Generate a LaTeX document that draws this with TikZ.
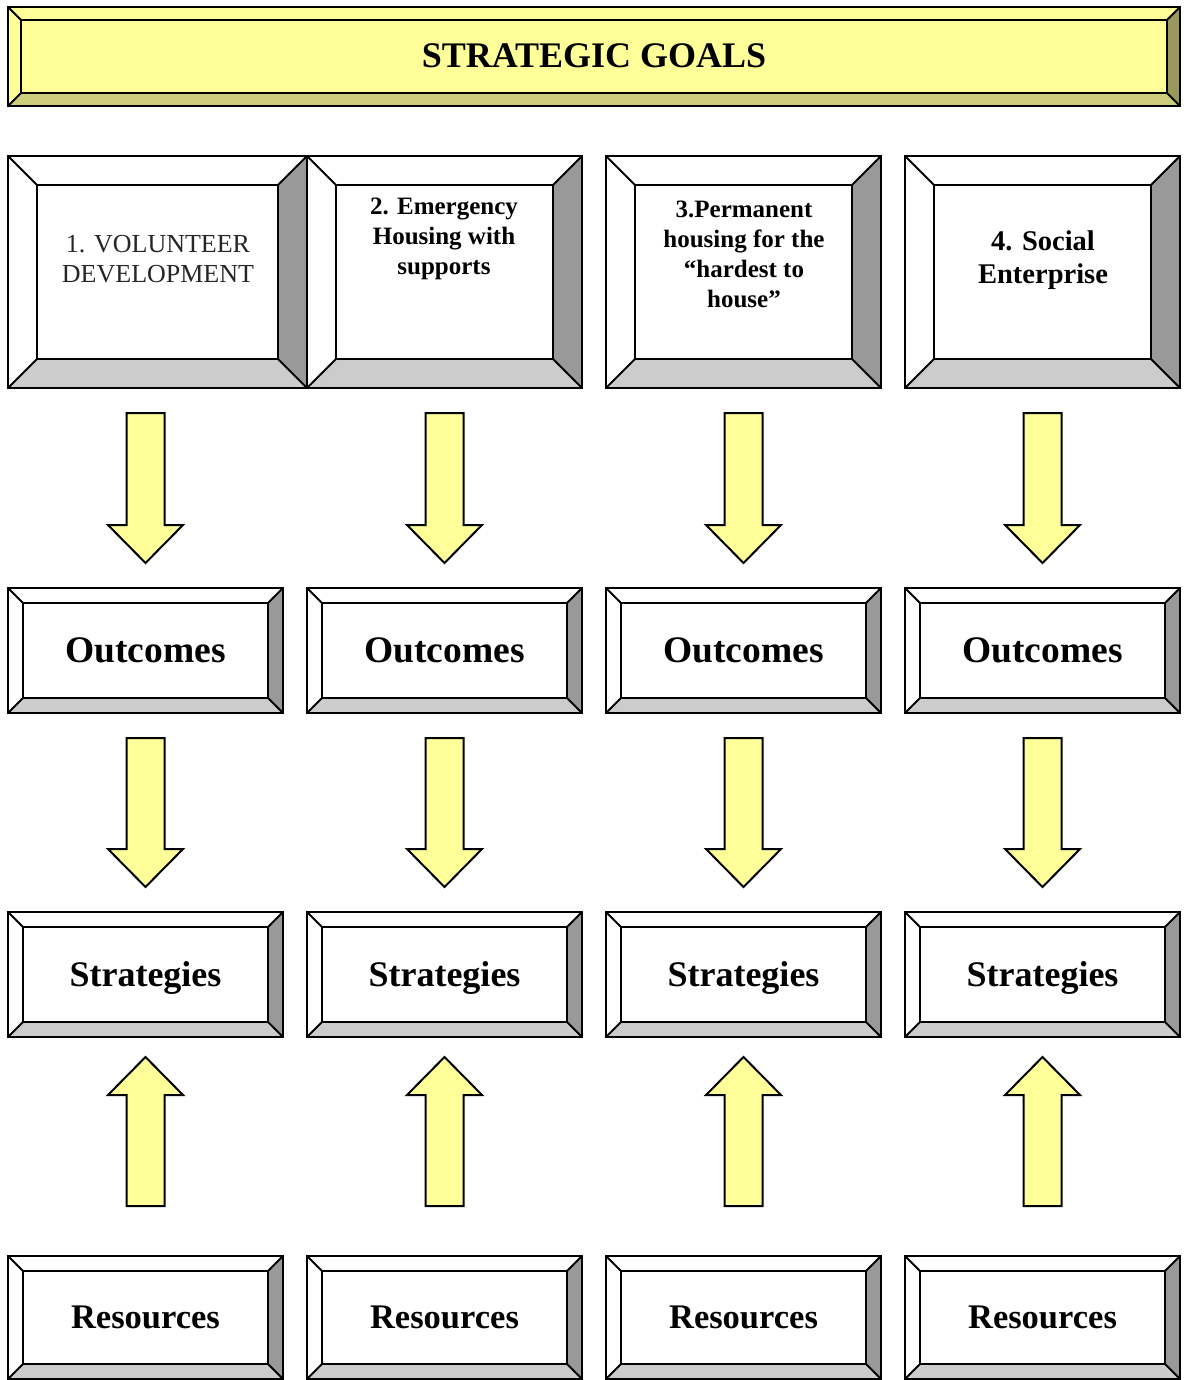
\documentclass[tikz,border=0pt]{standalone}
\usepackage{fontspec}
\setmainfont{Liberation Serif}
\usepackage{tikz}
\usetikzlibrary{calc}
\definecolor{whiteface}{HTML}{FFFFFF}
\definecolor{whitebottom}{HTML}{CCCCCC}
\definecolor{whiteside}{HTML}{999999}
\definecolor{yellowface}{HTML}{FFFF99}
\definecolor{yellowbottom}{HTML}{CCCC7A}
\definecolor{yellowside}{HTML}{99995C}
\definecolor{volgray}{HTML}{262626}
\tikzset{
	boxframe/.style={rectangle, inner sep=0pt, outer sep=0pt},
	bevelline/.style={draw=black, line width=2pt, line join=miter},
	arrowfill/.style={draw=black, line width=2pt, fill=yellowface, line join=miter},
	goaltext/.style={align=center, font=\bfseries\fontsize{25}{30}\selectfont},
	labeltext/.style={font=\bfseries\fontsize{36}{40}\selectfont}
}
% bevelled box: name, centre x, centre y, width, height, bevel, colour
\newcommand{\bevelbox}[7]{%
	\node[boxframe, fill=#7face, minimum width=#4, minimum height=#5] (#1) at (#2,#3) {};
	\coordinate (#1 inw) at ($(#1.north west)+(#6,#6)$);
	\coordinate (#1 ine) at ($(#1.north east)+(-#6,#6)$);
	\coordinate (#1 isw) at ($(#1.south west)+(#6,-#6)$);
	\coordinate (#1 ise) at ($(#1.south east)+(-#6,-#6)$);
	\fill[#7side] (#1.north east) -- (#1.south east) -- (#1 ise) -- (#1 ine) -- cycle;
	\fill[#7bottom] (#1.south west) -- (#1.south east) -- (#1 ise) -- (#1 isw) -- cycle;
	\draw[bevelline] (#1 inw) rectangle (#1 ise);
	\draw[bevelline] (#1.north west) -- (#1 inw) (#1.north east) -- (#1 ine) (#1.south west) -- (#1 isw) (#1.south east) -- (#1 ise);
	\draw[bevelline] (#1.north west) rectangle (#1.south east);
}
% block arrow: start, tip
\newcommand{\blockarrow}[2]{%
	\path (#1) coordinate (ta) (#2) coordinate (tb) ($(tb)!38pt!(ta)$) coordinate (tc);
	\draw[arrowfill] ($(ta)+(-19,0)$) -- ($(ta)+(19,0)$) -- ($(tc)+(19,0)$) -- ($(tc)+(37.5,0)$) -- (tb) -- ($(tc)+(-37.5,0)$) -- ($(tc)+(-19,0)$) -- cycle;
}
\begin{document}
\begin{tikzpicture}[x=1pt, y=-1pt]
	\useasboundingbox (0,0) rectangle (1183,1380);
	% title bar
	\bevelbox{top}{594}{56.5}{1172}{99}{13}{yellow}
	\node[font=\bfseries\fontsize{36}{40}\selectfont] (toptext) at (594,56) {STRATEGIC GOALS};
	% goals
	\bevelbox{g1}{157.5}{272}{299}{232}{29}{white}
	\bevelbox{g2}{444.5}{272}{275}{232}{29}{white}
	\bevelbox{g3}{743.5}{272}{275}{232}{29}{white}
	\bevelbox{g4}{1042.5}{272}{275}{232}{29}{white}
	\node[align=center, text=volgray, font=\fontsize{26}{30}\selectfont] (g1text) at (158,259) {1. VOLUNTEER\\DEVELOPMENT};
	\node[goaltext] (g2text) at (444,239) {2. Emergency\\Housing with\\supports};
	\node[goaltext] (g3text) at (744,254) {3.Permanent\\housing for the\\``hardest to\\house''};
	\node[goaltext, font=\bfseries\fontsize{28.5}{33}\selectfont] (g4text) at (1043,260) {4. Social\\Enterprise};
	% outcomes
	\bevelbox{o1}{145.5}{650.5}{275}{125}{15}{white}
	\bevelbox{o2}{444.5}{650.5}{275}{125}{15}{white}
	\bevelbox{o3}{743.5}{650.5}{275}{125}{15}{white}
	\bevelbox{o4}{1042.5}{650.5}{275}{125}{15}{white}
	\node[labeltext, font=\bfseries\fontsize{37.5}{40}\selectfont] (o1text) at (o1) {Outcomes};
	\node[labeltext, font=\bfseries\fontsize{37.5}{40}\selectfont] (o2text) at (o2) {Outcomes};
	\node[labeltext, font=\bfseries\fontsize{37.5}{40}\selectfont] (o3text) at (o3) {Outcomes};
	\node[labeltext, font=\bfseries\fontsize{37.5}{40}\selectfont] (o4text) at (o4) {Outcomes};
	% strategies
	\bevelbox{s1}{145.5}{974.5}{275}{125}{15}{white}
	\bevelbox{s2}{444.5}{974.5}{275}{125}{15}{white}
	\bevelbox{s3}{743.5}{974.5}{275}{125}{15}{white}
	\bevelbox{s4}{1042.5}{974.5}{275}{125}{15}{white}
	\node[labeltext] (s1text) at ($(s1)+(0,3)$) {Strategies};
	\node[labeltext] (s2text) at ($(s2)+(0,3)$) {Strategies};
	\node[labeltext] (s3text) at ($(s3)+(0,3)$) {Strategies};
	\node[labeltext] (s4text) at ($(s4)+(0,3)$) {Strategies};
	% resources
	\bevelbox{r1}{145.5}{1317.5}{275}{123}{15}{white}
	\bevelbox{r2}{444.5}{1317.5}{275}{123}{15}{white}
	\bevelbox{r3}{743.5}{1317.5}{275}{123}{15}{white}
	\bevelbox{r4}{1042.5}{1317.5}{275}{123}{15}{white}
	\node[labeltext, font=\bfseries\fontsize{34.5}{40}\selectfont] (r1text) at (r1) {Resources};
	\node[labeltext, font=\bfseries\fontsize{34.5}{40}\selectfont] (r2text) at (r2) {Resources};
	\node[labeltext, font=\bfseries\fontsize{34.5}{40}\selectfont] (r3text) at (r3) {Resources};
	\node[labeltext, font=\bfseries\fontsize{34.5}{40}\selectfont] (r4text) at (r4) {Resources};
	% arrows goals -> outcomes
	\blockarrow{$(o1.north |- g1.south)+(0,25)$}{$(o1.north)+(0,-25)$}
	\blockarrow{$(o2.north |- g2.south)+(0,25)$}{$(o2.north)+(0,-25)$}
	\blockarrow{$(o3.north |- g3.south)+(0,25)$}{$(o3.north)+(0,-25)$}
	\blockarrow{$(o4.north |- g4.south)+(0,25)$}{$(o4.north)+(0,-25)$}
	% arrows outcomes -> strategies
	\blockarrow{$(o1.south)+(0,25)$}{$(s1.north)+(0,-25)$}
	\blockarrow{$(o2.south)+(0,25)$}{$(s2.north)+(0,-25)$}
	\blockarrow{$(o3.south)+(0,25)$}{$(s3.north)+(0,-25)$}
	\blockarrow{$(o4.south)+(0,25)$}{$(s4.north)+(0,-25)$}
	% arrows resources -> strategies
	\blockarrow{$(r1.north)+(0,-50)$}{$(s1.south)+(0,20)$}
	\blockarrow{$(r2.north)+(0,-50)$}{$(s2.south)+(0,20)$}
	\blockarrow{$(r3.north)+(0,-50)$}{$(s3.south)+(0,20)$}
	\blockarrow{$(r4.north)+(0,-50)$}{$(s4.south)+(0,20)$}
\end{tikzpicture}
\end{document}
